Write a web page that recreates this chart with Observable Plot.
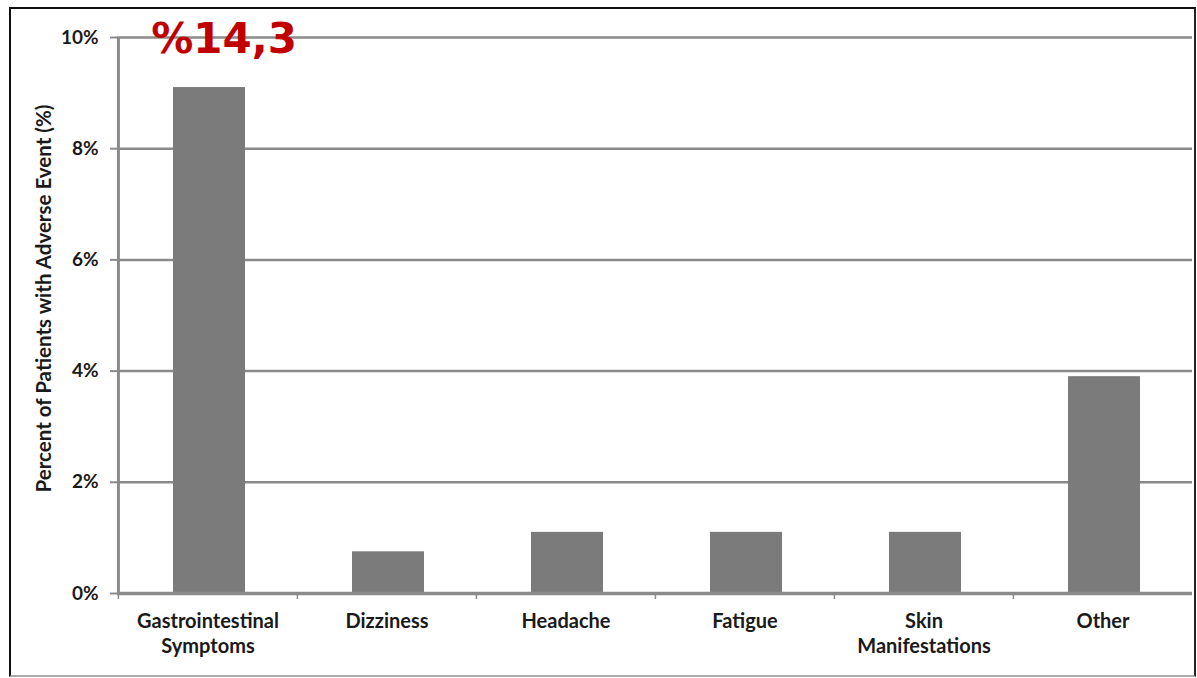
<!DOCTYPE html>
<html>
<head>
<meta charset="utf-8">
<script src="https://cdn.jsdelivr.net/npm/d3@7"></script>
<script src="https://cdn.jsdelivr.net/npm/@observablehq/plot@0.6"></script>
<style>
  html, body { margin: 0; padding: 0; background: #fff; }
  #wrap { position: relative; width: 1197px; height: 678px; overflow: hidden; }
  #frame { position: absolute; left: 9px; top: 7px; width: 1183px; height: 666px;
           border-left: 2px solid #111; border-top: 2px solid #111; border-right: 2px solid #222;
           border-bottom: 2px solid #aaa; pointer-events: none; }
</style>
</head>
<body>
<div id="wrap"><div id="frame"></div></div>
<script>
const categories = ["Gastrointestinal Symptoms", "Dizziness", "Headache", "Fatigue", "Skin Manifestations", "Other"];
const xTickLabels = ["Gastrointestinal\nSymptoms", "Dizziness", "Headache", "Fatigue", "Skin\nManifestations", "Other"];
const values = [9.1, 0.75, 1.1, 1.1, 1.1, 3.9];
const yTicks = [0, 2, 4, 6, 8, 10];
const yLabel = "Percent of Patients with Adverse Event (%)";
const annotation = "%14,3";

const data = categories.map((c, i) => ({category: c, value: values[i]}));
const labelOf = new Map(categories.map((c, i) => [c, xTickLabels[i]]));

const W = 1197, H = 678;
const mL = 117, mR = 5, mT = 37, mB = 85;
const band = (W - mL - mR) / categories.length;
const font = "Lato, 'Open Sans', sans-serif";

const chart = Plot.plot({
  width: W, height: H,
  marginLeft: mL, marginRight: mR, marginTop: mT, marginBottom: mB,
  style: {fontFamily: font, fontWeight: "bold", color: "#1a1a1a", background: "transparent", overflow: "visible"},
  x: {domain: categories, padding: 0},
  y: {domain: [0, 10]},
  marks: [
    Plot.gridY(yTicks, {stroke: "#8a8a8a", strokeOpacity: 1, strokeWidth: 2.5}),
    Plot.barY(data, {x: "category", y: "value", fill: "#7b7b7b", insetLeft: 55, insetRight: 52}),
    Plot.ruleX([categories[0]], {x: d => d, dx: -band / 2, stroke: "#8a8a8a", strokeWidth: 3}),
    Plot.ruleY([0], {stroke: "#8a8a8a", strokeWidth: 3.5}),
    Plot.axisY(yTicks, {tickSize: 7, tickPadding: 12, tickFormat: d => d + "%", fontSize: 19, stroke: "#8a8a8a", strokeWidth: 2, label: null}),
    Plot.axisX({tickSize: 6, dx: -band / 2, text: null, stroke: "#8a8a8a", strokeWidth: 1.5, label: null}),
    Plot.axisX({tickSize: 0, tickPadding: 17, tickFormat: d => labelOf.get(d), fontSize: 20, lineHeight: 1.25, label: null}),
    Plot.text([yLabel], {text: d => d, frameAnchor: "left", textAnchor: "middle", rotate: -90, dx: -73, dy: -17, fontSize: 20.5, fontWeight: "bold", fill: "#1a1a1a"}),
    Plot.text([annotation], {x: [categories[0]], y: [10], text: d => d, dx: 16, dy: 2, fontSize: 42, fontWeight: "bold", fontFamily: "'DejaVu Sans', Verdana, sans-serif", fill: "#c00000"})
  ]
});

document.getElementById("wrap").prepend(chart);
</script>
</body>
</html>
